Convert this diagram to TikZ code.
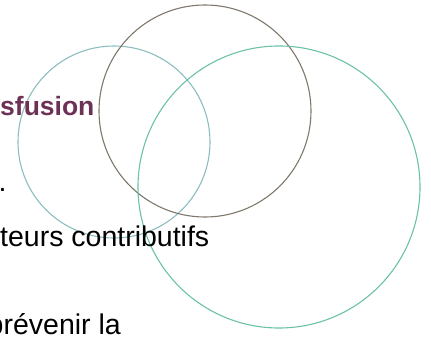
\documentclass[tikz,border=0pt]{standalone}
\usepackage{fontspec}
\setmainfont{Liberation Sans}
\definecolor{ringbrown}{HTML}{7F776C}
\definecolor{ringblue}{HTML}{8DBDBF}
\definecolor{ringgreen}{HTML}{6BC1A9}
\definecolor{titlecol}{HTML}{6E3156}
\begin{document}
\begin{tikzpicture}[x=1pt,y=-1pt,
  ring/.style={line width=1.1pt},
  body/.style={font=\fontsize{28.5}{31}\selectfont, inner sep=0pt, text=black},
  title/.style={font=\fontsize{26.5}{29}\selectfont\bfseries, inner sep=0pt, text=titlecol}]
\useasboundingbox (0,0) rectangle (431,337);
\draw[ring, ringblue] (114,142) circle[radius=96];
\draw[ring, ringbrown] (205,111) circle[radius=106];
\draw[ring, ringgreen] (279,187) circle[radius=141];
\node[title, anchor=base west] (t1) at (0,115) {sfusion};
\node[body, anchor=base west] (l1) at (-1.5,191) {.};
\node[body, anchor=base west] (l2) at (0,246) {teurs contributifs};
\node[body, anchor=base east] (l3) at (121,334) {prévenir la};
\end{tikzpicture}
\end{document}
